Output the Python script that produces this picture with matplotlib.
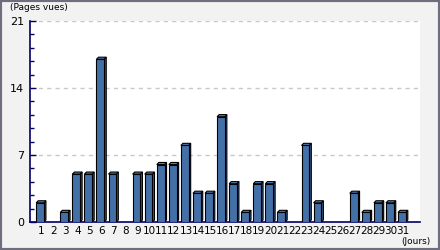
import numpy as np
import matplotlib
matplotlib.use('Agg')
import matplotlib.pyplot as plt
from matplotlib.patches import Polygon, Rectangle

days = list(range(1, 32))
views = [2, 0, 1, 5, 5, 17, 5, 0, 5, 5, 6, 6, 8, 3, 3, 11,
         4, 1, 4, 4, 1, 0, 8, 2, 0, 0, 3, 1, 2, 2, 1]
y_ticks = [0, 7, 14, 21]

front_col = '#4470a8'
side_col = '#355a8c'
top_col = '#5a85bb'
navy = '#000066'

plt.rcParams['font.family'] = ['DejaVu Sans']

fig = plt.figure(figsize=(4.4, 2.5), dpi=100, facecolor='#f2f2f2')
fig.patches.append(Rectangle((0, 0), 1, 1, transform=fig.transFigure,
                             fill=False, edgecolor='#6e6e7e', linewidth=3,
                             zorder=10))
ax = fig.add_axes([30 / 440, 28 / 250, 390 / 440, 201 / 250])
ax.set_facecolor('white')

w = 0.64
dx = 0.17
dy = 0.22
for d, v in zip(days, views):
    if v <= 0:
        continue
    x0, x1 = d - w / 2, d + w / 2
    ax.add_patch(Polygon([(x1, 0), (x1 + dx, dy), (x1 + dx, v + dy), (x1, v)],
                         closed=True, facecolor=side_col, edgecolor='black',
                         linewidth=0.8, zorder=3))
    ax.add_patch(Polygon([(x0, v), (x0 + dx, v + dy), (x1 + dx, v + dy), (x1, v)],
                         closed=True, facecolor=top_col, edgecolor='black',
                         linewidth=0.8, zorder=3))
    ax.add_patch(Rectangle((x0, 0), w, v, facecolor=front_col,
                           edgecolor='black', linewidth=0.8, zorder=4))

ax.set_xlim(0.17, 32.5)
ax.set_ylim(0, 21)

ax.set_yticks(y_ticks)
ax.set_yticks(np.arange(0, 21.01, 1.4), minor=True)
ax.yaxis.grid(True, which='major', color='#c8c8c8', linestyle=(0, (3, 3)),
              linewidth=1)
ax.set_axisbelow(True)
ax.tick_params(axis='y', which='both', direction='in', color=navy,
               length=3, width=1, labelsize=8, pad=4, right=False)
ax.tick_params(axis='y', which='major', length=4)

ax.set_xticks([d + 0.1 for d in days])
ax.set_xticklabels([str(d) for d in days])
ax.tick_params(axis='x', length=0, labelsize=7.5, pad=3)

for s in ['top', 'right']:
    ax.spines[s].set_visible(False)
for s in ['left', 'bottom']:
    ax.spines[s].set_color(navy)
    ax.spines[s].set_linewidth(1.2)

fig.text(10 / 440, 1 - 8 / 250, '(Pages vues)', fontsize=6.5,
         ha='left', va='center')
fig.text(430 / 440, 1 - 241 / 250, '(Jours)', fontsize=6.5,
         ha='right', va='center')

fig.savefig('out.png', dpi=100, facecolor=fig.get_facecolor())
